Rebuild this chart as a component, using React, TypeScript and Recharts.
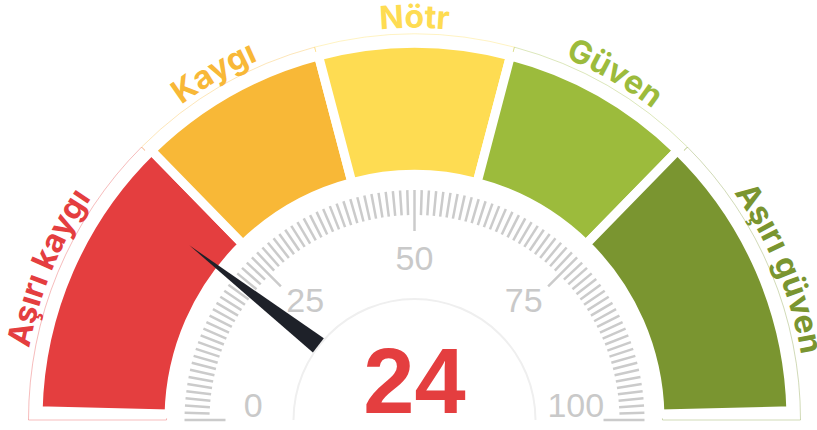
import React from 'react';
import { PieChart, Pie, Cell } from 'recharts';

// zones of the dial, left to right
const zoneNames = ['Aşırı kaygı', 'Kaygı', 'Nötr', 'Güven', 'Aşırı güven'];
const zoneSpans = [45, 30, 30, 30, 45]; // share of the half circle (degrees)
const zoneColors = ['#e43e3f', '#f8b837', '#fedc52', '#9cbb3c', '#7a9530'];

// scale
const dialTicks = Array.from({ length: 101 }, (_, i) => i);
const tickLabels = ['0', '25', '50', '75', '100'];

const indexValue = 24;
const needleReading = 21; // where the needle points on the scale

const zoneData = zoneNames.map((name, i) => ({ name, value: zoneSpans[i] }));
const tickData = dialTicks.map((t) => ({ name: String(t), value: 1 }));
const tickLabelData = tickLabels.map((t) => ({ name: t, value: 1 }));
const needleData = [
  { name: 'needle', value: needleReading },
  { name: 'rest', value: 100 - needleReading },
];
const ringData = [{ name: 'ring', value: 1 }];

const CX = 414.5;
const CY = 420;

const polar = (cx: number, cy: number, r: number, angle: number) => ({
  x: cx + r * Math.cos((-angle * Math.PI) / 180),
  y: cy + r * Math.sin((-angle * Math.PI) / 180),
});

const renderZoneLabel = (props: any) => {
  const { cx, cy, midAngle, index } = props;
  const r = 392;
  const p0 = polar(cx, cy, r, midAngle + 40);
  const p1 = polar(cx, cy, r, midAngle - 40);
  const id = `zone-path-${index}`;
  return (
    <g key={id}>
      <path id={id} d={`M ${p0.x} ${p0.y} A ${r} ${r} 0 0 1 ${p1.x} ${p1.y}`} fill="none" stroke="none" />
      <text fill={zoneColors[index]} fontSize={32} fontWeight={700} fontFamily="Inter, 'Noto Sans', sans-serif">
        <textPath href={`#${id}`} startOffset="50%" textAnchor="middle">
          {zoneNames[index]}
        </textPath>
      </text>
    </g>
  );
};

const renderTick = (props: any) => {
  const { cx, cy, midAngle, index } = props;
  const major = dialTicks[index] % 25 === 0;
  const a = polar(cx, cy, major ? 189 : 205, midAngle);
  const b = polar(cx, cy, 230, midAngle);
  return <line key={`tick-${index}`} x1={a.x} y1={a.y} x2={b.x} y2={b.y} stroke="#cbcbcb" strokeWidth={2.5} />;
};

const renderTickLabel = (props: any) => {
  const { cx, cy, midAngle, index } = props;
  const p = polar(cx, cy, 162, midAngle);
  return (
    <text
      key={`tl-${index}`}
      x={p.x}
      y={p.y}
      textAnchor="middle"
      dominantBaseline="central"
      fill="#c9c9c9"
      fontSize={34}
      fontFamily="'Liberation Sans', Arial, sans-serif"
    >
      {tickLabels[index]}
    </text>
  );
};

const renderNeedle = (props: any) => {
  const { cx, cy, endAngle, index } = props;
  if (index !== 0) return null;
  const tip = polar(cx, cy, 285, endAngle);
  const b1 = polar(cx, cy, 122, endAngle + 4.2);
  const b2 = polar(cx, cy, 122, endAngle - 4.2);
  return <polygon key="needle" points={`${tip.x},${tip.y} ${b1.x},${b1.y} ${b2.x},${b2.y}`} fill="#1e2129" />;
};

const renderValue = (props: any) => {
  const { cx, cy } = props;
  return (
    <text
      key="value"
      x={cx}
      y={cy - 7}
      textAnchor="middle"
      fill="#e43e3f"
      fontSize={92}
      fontWeight={700}
      fontFamily="'Liberation Sans', Arial, sans-serif"
    >
      {indexValue}
    </text>
  );
};

const App: React.FC = () => {
  return (
    <div style={{ width: 817, height: 430 }}>
      <style>{'body{margin:0}'}</style>
      <PieChart width={817} height={430} margin={{ top: 0, right: 0, bottom: 0, left: 0 }}>
        {/* faint outline around each zone */}
        <Pie
          data={zoneData}
          dataKey="value"
          cx={CX}
          cy={CY}
          startAngle={180}
          endAngle={0}
          innerRadius={248}
          outerRadius={386}
          isAnimationActive={false}
          labelLine={false}
          label={renderZoneLabel}
        >
          {zoneData.map((d, i) => (
            <Cell key={d.name} fill="none" stroke={zoneColors[i]} strokeOpacity={0.35} strokeWidth={1} />
          ))}
        </Pie>
        {/* coloured zones */}
        <Pie
          data={zoneData}
          dataKey="value"
          cx={CX}
          cy={CY}
          startAngle={178.6}
          endAngle={1.4}
          innerRadius={245.5}
          outerRadius={376.5}
          stroke="#fff"
          strokeWidth={9}
          isAnimationActive={false}
        >
          {zoneData.map((d, i) => (
            <Cell key={d.name} fill={zoneColors[i]} stroke="#fff" strokeWidth={9} />
          ))}
        </Pie>
        {/* inner faint ring + value */}
        <Pie
          data={ringData}
          dataKey="value"
          cx={CX}
          cy={CY}
          startAngle={180}
          endAngle={0}
          innerRadius={120}
          outerRadius={122}
          fill="#efefef"
          stroke="none"
          isAnimationActive={false}
          labelLine={false}
          label={renderValue}
        />
        {/* scale ticks */}
        <Pie
          data={tickData}
          dataKey="value"
          cx={CX}
          cy={CY}
          startAngle={180.9}
          endAngle={-0.9}
          innerRadius={205}
          outerRadius={230}
          fill="none"
          stroke="none"
          isAnimationActive={false}
          labelLine={false}
          label={renderTick}
        />
        {/* scale numbers */}
        <Pie
          data={tickLabelData}
          dataKey="value"
          cx={CX}
          cy={CY}
          startAngle={196}
          endAngle={-16}
          innerRadius={150}
          outerRadius={170}
          fill="none"
          stroke="none"
          isAnimationActive={false}
          labelLine={false}
          label={renderTickLabel}
        />
        {/* needle */}
        <Pie
          data={needleData}
          dataKey="value"
          cx={CX}
          cy={CY}
          startAngle={180}
          endAngle={0}
          innerRadius={122}
          outerRadius={285}
          fill="none"
          stroke="none"
          isAnimationActive={false}
          labelLine={false}
          label={renderNeedle}
        />
      </PieChart>
    </div>
  );
};

export default App;
